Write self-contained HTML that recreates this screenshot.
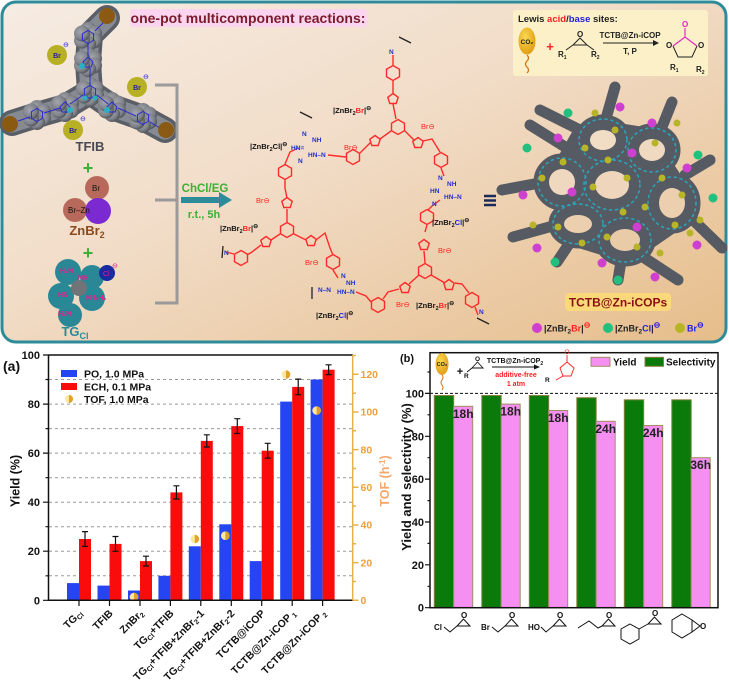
<!DOCTYPE html>
<html><head><meta charset="utf-8"><style>
html,body{margin:0;padding:0;background:#fff;}
svg{display:block;}
text{font-family:"Liberation Sans",Arial,sans-serif;}
</style></head><body>
<svg width="729" height="681" viewBox="0 0 729 681" xmlns="http://www.w3.org/2000/svg">
<defs>
<linearGradient id="bg" x1="0" y1="0" x2="1" y2="1">
<stop offset="0" stop-color="#f6ece3"/>
<stop offset="0.45" stop-color="#f1dcc7"/>
<stop offset="1" stop-color="#e6bd8a"/>
</linearGradient>
<radialGradient id="egg" cx="0.4" cy="0.35" r="0.7">
<stop offset="0" stop-color="#f8d850"/><stop offset="1" stop-color="#e09a10"/>
</radialGradient>
<radialGradient id="sph" cx="0.4" cy="0.4" r="0.6">
<stop offset="0" stop-color="#a4a8ae"/><stop offset="0.7" stop-color="#80848a"/><stop offset="1" stop-color="#55595f"/>
</radialGradient>
<polygon id="hx" points="0,-7.5 6.5,-3.75 6.5,3.75 0,7.5 -6.5,3.75 -6.5,-3.75" fill="none" stroke="#ff2a2a" stroke-width="1.4"/>
<polygon id="pt" points="0,-5.5 5.2,-1.7 3.2,4.5 -3.2,4.5 -5.2,-1.7" fill="none" stroke="#ff2a2a" stroke-width="1.4"/>
<polygon id="bhx" points="0,-6.5 5.6,-3.25 5.6,3.25 0,6.5 -5.6,3.25 -5.6,-3.25" fill="none" stroke="#2a2ad0" stroke-width="1"/>
<g id="blob">
<circle cx="0" cy="-7" r="8" fill="url(#sph)"/><circle cx="6" cy="-3.5" r="8" fill="url(#sph)"/><circle cx="6" cy="3.5" r="8" fill="url(#sph)"/>
<circle cx="0" cy="7" r="8" fill="url(#sph)"/><circle cx="-6" cy="3.5" r="8" fill="url(#sph)"/><circle cx="-6" cy="-3.5" r="8" fill="url(#sph)"/>
</g>
</defs>

<!-- ===== TOP PANEL ===== -->
<rect x="2" y="2" width="724" height="340" rx="14" fill="url(#bg)" stroke="#2e8c9a" stroke-width="3"/>

<!-- title -->
<rect x="130" y="9" width="237" height="18" rx="3" fill="#fbd5ef"/>
<text x="248" y="23" text-anchor="middle" font-size="14" font-weight="bold" fill="#7a1a2a">one-pot multicomponent reactions:</text>

<!-- TFIB -->
<g fill="none" stroke-linecap="round" stroke-linejoin="round">
<path d="M107,18 L90,35 L88,62 L90,92 M12,123 L37,115 L65,107 L90,92 M165,130 L143,118 L112,107 L90,92" stroke="#5a5e66" stroke-width="26"/>
<path d="M107,18 L90,35 L88,62 L90,92 M12,123 L37,115 L65,107 L90,92 M165,130 L143,118 L112,107 L90,92" stroke="#868a92" stroke-width="19"/>
</g>
<use href="#blob" x="88" y="37"/><use href="#blob" x="88" y="62"/><use href="#blob" x="90" y="92"/>
<use href="#blob" x="65" y="107"/><use href="#blob" x="37" y="115"/><use href="#blob" x="112" y="107"/><use href="#blob" x="143" y="118"/>
<use href="#bhx" x="88" y="37"/><use href="#bhx" x="37" y="115"/><use href="#bhx" x="143" y="118"/><use href="#bhx" x="90" y="92"/>
<g stroke="#2a2ad0" stroke-width="1" fill="none">
<path d="M88,44 L88,56 M90,85 L90,68 M44,113 L60,108 M97,95 L108,104 M83,95 L70,104 M118,108 L136,116 M95,31 L104,22 M30,117 L18,121 M150,122 L160,128"/>
<path d="M83,62 L88,57 L93,62 L91,67 L85,67 Z M60,107 L65,102 L70,107 L68,112 L62,112 Z M107,107 L112,102 L117,107 L115,112 L109,112 Z"/>
</g>
<g fill="#2ab0c0"><circle cx="82" cy="66" r="3"/><circle cx="70" cy="110" r="3"/><circle cx="107" cy="110" r="3"/><circle cx="95" cy="98" r="2.5"/><circle cx="85" cy="98" r="2.5"/></g>
<g fill="#8a5a12"><circle cx="107" cy="16" r="8"/><circle cx="10" cy="124" r="8"/><circle cx="166" cy="130" r="8"/></g>
<g fill="#b8b024"><circle cx="57" cy="55" r="10"/><circle cx="137" cy="87" r="10"/><circle cx="73" cy="130" r="10"/></g>
<g font-size="7" font-weight="bold" fill="#2020a0" text-anchor="middle"><text x="57" y="58">Br</text><text x="137" y="90">Br</text><text x="73" y="133">Br</text></g>
<g font-size="7" fill="#2020d0"><text x="63" y="47">⊖</text><text x="143" y="79">⊖</text><text x="80" y="121">⊖</text></g>
<text x="90" y="151" text-anchor="middle" font-size="13" font-weight="bold" fill="#4a4a52">TFIB</text>

<text x="88" y="174" text-anchor="middle" font-size="18" font-weight="bold" fill="#3cb034">+</text>
<!-- ZnBr2 -->
<circle cx="97" cy="188" r="12" fill="#b76a5c"/>
<circle cx="75" cy="210" r="12" fill="#b76a5c"/>
<circle cx="98" cy="211" r="13" fill="#7a2ad0"/>
<g font-size="8" fill="#111"><text x="92" y="191">Br</text><text x="68" y="213">Br–Zn</text></g>
<text x="87" y="235" text-anchor="middle" font-size="13" font-weight="bold" fill="#8a4a1a">ZnBr<tspan font-size="9" dy="3">2</tspan></text>

<text x="88" y="259" text-anchor="middle" font-size="18" font-weight="bold" fill="#3cb034">+</text>
<!-- TGcl -->
<g fill="#2a8896">
<circle cx="68" cy="272" r="13"/><circle cx="92" cy="277" r="12"/><circle cx="61" cy="296" r="13"/><circle cx="92" cy="298" r="13"/><circle cx="70" cy="315" r="12"/>
</g>
<circle cx="79" cy="288" r="8" fill="#707478"/>
<g font-size="7" font-weight="bold" fill="#e0208a"><text x="60" y="273">H₂N</text><text x="78" y="280">NH</text><text x="58" y="297">HN</text><text x="86" y="300">N·NH₂</text><text x="58" y="316">H₂N</text></g>
<circle cx="107" cy="273" r="8" fill="#1a2aa0"/>
<text x="103" y="276" font-size="7" fill="#e0208a">Cl</text>
<text x="112" y="268" font-size="7" fill="#e0208a">⊖</text>
<text x="75" y="336" text-anchor="middle" font-size="13" font-weight="bold" fill="#2a8a9a">TG<tspan font-size="9" dy="3">Cl</tspan></text>

<!-- bracket & arrow -->
<path d="M155,85 H177 V303 H155 M155,200 H177" stroke="#9a9a9a" stroke-width="3" fill="none"/>
<path d="M181,200 H221" stroke="#2e8c9a" stroke-width="6"/>
<polygon points="219,192 232,200 219,208" fill="#2e8c9a"/>
<text x="205" y="192" text-anchor="middle" font-size="11.5" font-weight="bold" fill="#3cb034">ChCl/EG</text>
<text x="204" y="218" text-anchor="middle" font-size="11" font-weight="bold" fill="#3cb034">r.t., 5h</text>

<!-- red structure -->
<g>
<use href="#hx" x="287" y="230"/><use href="#pt" x="287" y="203"/><use href="#hx" x="285" y="172"/>
<use href="#pt" x="266" y="242"/><use href="#hx" x="241" y="258"/>
<use href="#pt" x="311" y="241"/><use href="#hx" x="333" y="262"/>
<use href="#hx" x="353" y="157"/><use href="#pt" x="375" y="141"/>
<use href="#hx" x="393" y="73"/><use href="#pt" x="393" y="99"/><use href="#hx" x="398" y="127"/>
<use href="#pt" x="418" y="143"/><use href="#hx" x="441" y="160"/>
<use href="#hx" x="427" y="217"/><use href="#pt" x="424" y="245"/><use href="#hx" x="425" y="271"/>
<use href="#pt" x="405" y="288"/><use href="#pt" x="449" y="285"/><use href="#hx" x="472" y="300"/>
<use href="#hx" x="378" y="305"/>
</g>
<g stroke="#ff2a2a" stroke-width="1.4" fill="none">
<path d="M287,222 L287,209 M287,198 L285,188 L285,180 M285,164 L290,152 L298,148"/>
<path d="M280,234 L271,240 M261,245 L252,252 L247,255 M234,254 L226,252"/>
<path d="M294,234 L306,240 M316,240 L325,233 L330,248 L333,255 M333,270 L338,278"/>
<path d="M328,155 L346,157 M360,153 L366,147 L371,142"/>
<path d="M393,55 L393,65 M393,81 L393,93 M393,104 L396,119 M391,131 L380,139 M405,131 L414,140 M423,141 L432,139 L440,152 M441,168 L444,176"/>
<path d="M440,200 L432,206 L428,210 M427,225 L425,232 M424,251 L425,263 M419,275 L409,284 M431,275 L445,283 M455,283 L462,284 L469,293 M475,307 L478,315"/>
<path d="M399,289 L388,292 L383,299 M356,292 L366,296 L371,302"/>
</g>
<g stroke="#222" stroke-width="1.3"><path d="M300,112 L312,118 M399,37 L411,43 M223,246 L222,258 M477,318 L489,324 M312,287 L312,299"/></g>
<g font-size="6.5" fill="#2030d0" font-weight="bold">
<text x="302" y="136">N</text><text x="312" y="142">NH</text><text x="291" y="150">HN=</text><text x="308" y="157">HN–N</text><text x="298" y="163">N</text>
<text x="341" y="278">N</text><text x="346" y="285">NH</text><text x="318" y="292">N–N</text><text x="337" y="294">HN–N</text>
<text x="438" y="180">N</text><text x="447" y="186">NH</text><text x="430" y="193">HN</text><text x="444" y="199">HN–N</text><text x="432" y="206">N</text>
<text x="224" y="255">N</text><text x="389" y="54">N</text><text x="479" y="314">N</text>
</g>
<g font-size="7.5" font-weight="bold" fill="#111">
<text x="333" y="113">|ZnBr<tspan font-size="5.5" dy="2">2</tspan><tspan dy="-2" fill="#ff2020">Br</tspan>|<tspan dy="-3" font-size="6">⊖</tspan></text>
<text x="250" y="149">|ZnBr<tspan font-size="5.5" dy="2">2</tspan><tspan dy="-2">Cl</tspan>|<tspan dy="-3" font-size="6">⊖</tspan></text>
<text x="220" y="231">|ZnBr<tspan font-size="5.5" dy="2">2</tspan><tspan dy="-2" fill="#ff2020">Br</tspan>|<tspan dy="-3" font-size="6">⊖</tspan></text>
<text x="316" y="318">|ZnBr<tspan font-size="5.5" dy="2">2</tspan><tspan dy="-2" fill="#2020e0">Cl</tspan>|<tspan dy="-3" font-size="6">⊖</tspan></text>
<text x="432" y="225">|ZnBr<tspan font-size="5.5" dy="2">2</tspan><tspan dy="-2" fill="#2020e0">Cl</tspan>|<tspan dy="-3" font-size="6">⊖</tspan></text>
<text x="416" y="308">|ZnBr<tspan font-size="5.5" dy="2">2</tspan><tspan dy="-2" fill="#ff2020">Br</tspan>|<tspan dy="-3" font-size="6">⊖</tspan></text>
</g>
<g font-size="7.5" fill="#ff2020">
<text x="344" y="150">Br⊖</text><text x="256" y="203">Br⊖</text><text x="305" y="265">Br⊖</text><text x="421" y="129">Br⊖</text><text x="438" y="253">Br⊖</text><text x="396" y="307">Br⊖</text>
</g>
<!-- ≡ -->
<g stroke="#1a2a5a" stroke-width="2.5"><path d="M484,196 H496 M484,200.5 H496 M484,205 H496"/></g>

<!-- Lewis box -->
<rect x="513" y="10" width="195" height="66" rx="3" fill="#fbf0c8"/>
<text x="518" y="22" font-size="9.5" font-weight="bold" fill="#222">Lewis <tspan fill="#ff2020">acid</tspan>/<tspan fill="#2020e0">base</tspan> sites:</text>
<ellipse cx="527" cy="41" rx="8.5" ry="13.5" fill="url(#egg)"/>
<text x="527" y="44" text-anchor="middle" font-size="6.5" font-weight="bold" fill="#222">CO₂</text>
<path d="M527,55 q3,3 0,6 q-3,3 0,6 q3,3 0,6" stroke="#d07010" stroke-width="1.2" fill="none"/>
<text x="550" y="51" text-anchor="middle" font-size="13" font-weight="bold" fill="#ff2020">+</text>
<g stroke="#222" stroke-width="1" fill="none"><path d="M573,45 L587,45 L580,38 Z M573,45 L566,50 M587,45 L594,50 M603,43 L655,43"/></g>
<polygon points="653,40 659,43 653,46" fill="#222"/>
<g font-size="8" font-weight="bold" fill="#222"><text x="577" y="37">O</text><text x="558" y="57">R<tspan font-size="5" dy="2">1</tspan></text><text x="591" y="57">R<tspan font-size="5" dy="2">2</tspan></text>
<text x="630" y="38" text-anchor="middle">TCTB@Zn-iCOP</text><text x="630" y="54" text-anchor="middle">T, P</text>
<text x="670" y="70">R<tspan font-size="5" dy="2">1</tspan></text><text x="696" y="72">R<tspan font-size="5" dy="2">2</tspan></text></g>
<g stroke="#222" stroke-width="1" fill="none"><path d="M673,46 L678,57 L692,57 L697,46"/></g>
<g stroke="#e020c0" stroke-width="1.1" fill="none"><path d="M673,46 L685,37 L697,46 M685,37 L685,28"/></g>
<g font-size="8" font-weight="bold" fill="#e020c0"><text x="682" y="27">O</text></g>
<g font-size="8" font-weight="bold" fill="#222"><text x="666" y="48">O</text><text x="698" y="48">O</text></g>

<!-- COP network -->
<polygon points="600,120 650,128 692,192 682,228 630,264 572,246 542,185 572,132" fill="#565a62"/>
<g fill="none" stroke-linecap="round">
<path d="M615,87 L605,122 M672,102 L660,132 M502,190 L545,182 M513,237 L560,224 M722,248 L688,215 M678,280 L640,255 M557,262 L575,235 M618,280 L622,255 M530,125 L570,150 M710,160 L685,175 M540,110 L580,130" stroke="#565a62" stroke-width="11"/>
<g stroke="#565a62" stroke-width="19">
<ellipse cx="612" cy="185" rx="23" ry="20"/><ellipse cx="603" cy="140" rx="19" ry="16"/><ellipse cx="652" cy="150" rx="19" ry="17"/>
<ellipse cx="562" cy="182" rx="19" ry="19"/><ellipse cx="578" cy="224" rx="20" ry="15"/><ellipse cx="625" cy="240" rx="21" ry="17"/><ellipse cx="672" cy="203" rx="19" ry="21"/>
</g>
<g stroke="#2aa4b8" stroke-width="1.6" stroke-dasharray="2 4">
<ellipse cx="612" cy="185" rx="28" ry="25"/><ellipse cx="603" cy="140" rx="24" ry="21"/><ellipse cx="652" cy="150" rx="24" ry="22"/>
<ellipse cx="562" cy="182" rx="24" ry="24"/><ellipse cx="578" cy="224" rx="25" ry="20"/><ellipse cx="625" cy="240" rx="26" ry="22"/><ellipse cx="672" cy="203" rx="24" ry="26"/>
</g>
</g>
<g>
<ellipse cx="612" cy="185" rx="17" ry="14" fill="#eed5bb"/><ellipse cx="603" cy="140" rx="13" ry="10" fill="#f1dcc6"/><ellipse cx="652" cy="150" rx="13" ry="11" fill="#f0d9c1"/>
<ellipse cx="562" cy="182" rx="13" ry="13" fill="#efd8c0"/><ellipse cx="578" cy="224" rx="14" ry="9" fill="#eccfae"/><ellipse cx="625" cy="240" rx="15" ry="11" fill="#eacba8"/><ellipse cx="672" cy="203" rx="13" ry="15" fill="#ebcfae"/>
</g>
<g fill="#d040d0">
<circle cx="620" cy="107" r="4.5"/><circle cx="652" cy="123" r="4.5"/><circle cx="558" cy="138" r="4.5"/><circle cx="632" cy="153" r="4.5"/><circle cx="687" cy="168" r="4.5"/><circle cx="523" cy="195" r="4.5"/><circle cx="572" cy="192" r="4.5"/><circle cx="637" cy="227" r="4.5"/><circle cx="537" cy="248" r="4.5"/><circle cx="697" cy="245" r="4.5"/><circle cx="602" cy="263" r="4.5"/><circle cx="655" cy="277" r="4.5"/>
</g>
<g fill="#22c07e">
<circle cx="568" cy="113" r="4.5"/><circle cx="527" cy="148" r="4.5"/><circle cx="698" cy="155" r="4.5"/><circle cx="713" cy="198" r="4.5"/><circle cx="555" cy="262" r="4.5"/><circle cx="618" cy="280" r="4.5"/>
</g>
<g fill="#b8b428">
<circle cx="595" cy="113" r="3.5"/><circle cx="615" cy="130" r="3.5"/><circle cx="655" cy="143" r="3.5"/><circle cx="677" cy="123" r="3.5"/><circle cx="585" cy="148" r="3.5"/><circle cx="563" cy="162" r="3.5"/><circle cx="542" cy="178" r="3.5"/><circle cx="608" cy="160" r="3.5"/><circle cx="627" cy="178" r="3.5"/><circle cx="662" cy="178" r="3.5"/><circle cx="682" cy="195" r="3.5"/><circle cx="533" cy="225" r="3.5"/><circle cx="558" cy="227" r="3.5"/><circle cx="593" cy="187" r="3.5"/><circle cx="645" cy="207" r="3.5"/><circle cx="675" cy="225" r="3.5"/><circle cx="700" cy="220" r="3.5"/><circle cx="582" cy="243" r="3.5"/><circle cx="607" cy="237" r="3.5"/><circle cx="637" cy="247" r="3.5"/><circle cx="660" cy="253" r="3.5"/><circle cx="690" cy="233" r="3.5"/><circle cx="623" cy="212" r="3.5"/>
</g>
<rect x="565" y="293" width="106" height="18" rx="4" fill="#fbd87a"/>
<text x="618" y="306.5" text-anchor="middle" font-size="12" font-weight="bold" fill="#8a1010">TCTB@Zn-iCOPs</text>
<circle cx="537" cy="328" r="5" fill="#d040d0"/>
<text x="544" y="331.5" font-size="9" font-weight="bold" fill="#222">|ZnBr<tspan font-size="6.5" dy="2">2</tspan><tspan dy="-2" fill="#ff2020">Br</tspan>|<tspan dy="-4" font-size="8" fill="#ff2020">⊖</tspan></text>
<circle cx="608" cy="328" r="5" fill="#22c07e"/>
<text x="615" y="331.5" font-size="9" font-weight="bold" fill="#222">|ZnBr<tspan font-size="6.5" dy="2">2</tspan><tspan dy="-2" fill="#2020e0">Cl</tspan>|<tspan dy="-4" font-size="8" fill="#2020e0">⊖</tspan></text>
<circle cx="680" cy="328" r="5" fill="#b8b428"/>
<text x="687" y="331.5" font-size="9" font-weight="bold" fill="#2020e0">Br<tspan dy="-4" font-size="8">⊖</tspan></text>

<!-- ===== CHART (a) ===== -->
<text x="3" y="371" font-size="14" font-weight="bold" fill="#111">(a)</text>
<g stroke="#9a9a9a" stroke-width="1" stroke-dasharray="3 3">
<path d="M49,575.8 H352 M49,551.2 H352 M49,526.7 H352 M49,502.2 H352 M49,477.7 H352 M49,453.1 H352 M49,428.6 H352 M49,404.1 H352 M49,379.5 H352"/>
</g>
<g fill="#2545f2">
<rect x="67" y="583.1" width="12" height="17.2"/>
<rect x="97.5" y="585.6" width="12" height="14.7"/>
<rect x="128" y="590.5" width="12" height="9.8"/>
<rect x="158.4" y="575.8" width="12" height="24.5"/>
<rect x="188.8" y="546.3" width="12" height="54"/>
<rect x="219.3" y="524.3" width="12" height="76"/>
<rect x="249.7" y="561.1" width="12" height="39.2"/>
<rect x="280.2" y="401.6" width="12" height="198.7"/>
<rect x="310.6" y="379.5" width="12" height="220.8"/>
</g>
<g fill="#fb0c0c">
<rect x="79" y="539" width="12" height="61.3"/>
<rect x="109.5" y="543.9" width="12" height="56.4"/>
<rect x="140" y="561.1" width="12" height="39.2"/>
<rect x="170.4" y="492.4" width="12" height="107.9"/>
<rect x="200.8" y="440.9" width="12" height="159.4"/>
<rect x="231.3" y="426.1" width="12" height="174.2"/>
<rect x="261.7" y="450.7" width="12" height="149.6"/>
<rect x="292.2" y="386.9" width="12" height="213.4"/>
<rect x="322.6" y="369.7" width="12" height="230.6"/>
</g>
<g stroke="#111" stroke-width="1.2">
<path d="M85,531.6 V546.4 M82,531.6 H88 M82,546.4 H88"/>
<path d="M115.5,536.5 V551.3 M112.5,536.5 H118.5 M112.5,551.3 H118.5"/>
<path d="M146,556.2 V566 M143,556.2 H149 M143,566 H149"/>
<path d="M176.4,485.8 V499 M173.4,485.8 H179.4 M173.4,499 H179.4"/>
<path d="M206.8,434.8 V447 M203.8,434.8 H209.8 M203.8,447 H209.8"/>
<path d="M237.3,418.7 V433.5 M234.3,418.7 H240.3 M234.3,433.5 H240.3"/>
<path d="M267.7,443.3 V458.1 M264.7,443.3 H270.7 M264.7,458.1 H270.7"/>
<path d="M298.2,379.1 V394.7 M295.2,379.1 H301.2 M295.2,394.7 H301.2"/>
<path d="M328.6,364.8 V374.6 M325.6,364.8 H331.6 M325.6,374.6 H331.6"/>
</g>
<g>
<circle cx="134" cy="597" r="4.3" fill="#fbe8a0"/><path d="M134,592.7 A4.3,4.3 0 0 1 134,601.3 Z" fill="#e3a02a"/>
<circle cx="194.8" cy="539" r="4.3" fill="#fbe8a0"/><path d="M194.8,534.7 A4.3,4.3 0 0 1 194.8,543.3 Z" fill="#e3a02a"/>
<circle cx="225.3" cy="535.7" r="4.3" fill="#fbe8a0"/><path d="M225.3,531.4 A4.3,4.3 0 0 1 225.3,540 Z" fill="#e3a02a"/>
<circle cx="286" cy="374.5" r="4.3" fill="#fbe8a0"/><path d="M286,370.2 A4.3,4.3 0 0 1 286,378.8 Z" fill="#e3a02a"/>
<circle cx="316.6" cy="410.5" r="4.3" fill="#fbe8a0"/><path d="M316.6,406.2 A4.3,4.3 0 0 1 316.6,414.8 Z" fill="#e3a02a"/>
</g>
<g stroke="#111" stroke-width="1.5" fill="none">
<path d="M48.5,355 V600.3 H352.7 M48.5,355 H352.7"/>
</g>
<g stroke="#111" stroke-width="1.2">
<path d="M43,600.3 H48.5 M43,551.2 H48.5 M43,502.2 H48.5 M43,453.1 H48.5 M43,404.1 H48.5 M43,355 H48.5"/>
<path d="M45.5,575.8 H48.5 M45.5,526.7 H48.5 M45.5,477.7 H48.5 M45.5,428.6 H48.5 M45.5,379.5 H48.5"/>
<path d="M79,600.3 V606 M109.5,600.3 V606 M140,600.3 V606 M170.4,600.3 V606 M200.8,600.3 V606 M231.3,600.3 V606 M261.7,600.3 V606 M292.2,600.3 V606 M322.6,600.3 V606"/>
</g>
<g stroke="#e6b04a" stroke-width="1.5">
<path d="M352.7,355 V600.3"/>
<path d="M352.7,600.3 H358.5 M352.7,562.6 H358.5 M352.7,525 H358.5 M352.7,487.3 H358.5 M352.7,449.6 H358.5 M352.7,412 H358.5 M352.7,374.3 H358.5"/>
<path d="M352.7,581.5 H356 M352.7,543.8 H356 M352.7,506.1 H356 M352.7,468.5 H356 M352.7,430.8 H356 M352.7,393.1 H356 M352.7,355.5 H356"/>
</g>
<g font-size="11" font-weight="bold" fill="#111" text-anchor="end">
<text x="40" y="604.3">0</text><text x="40" y="555.2">20</text><text x="40" y="506.2">40</text><text x="40" y="457.1">60</text><text x="40" y="408.1">80</text><text x="40" y="359">100</text>
</g>
<g font-size="10.5" font-weight="bold" fill="#eca03a">
<text x="360.5" y="604">0</text><text x="360.5" y="566.3">20</text><text x="360.5" y="528.7">40</text><text x="360.5" y="491">60</text><text x="360.5" y="453.3">80</text><text x="360.5" y="415.7">100</text><text x="360.5" y="378">120</text>
</g>
<text transform="translate(19.5,481) rotate(-90)" text-anchor="middle" font-size="12.5" font-weight="bold" fill="#111">Yield (%)</text>
<text transform="translate(389,481) rotate(-90)" text-anchor="middle" font-size="12.5" font-weight="bold" fill="#f5a66a">TOF (h<tspan font-size="8" dy="-4">-1</tspan><tspan dy="4">)</tspan></text>
<rect x="61" y="370" width="16" height="7" fill="#2545f2"/>
<rect x="61" y="383" width="16" height="7" fill="#fb0c0c"/>
<circle cx="69" cy="399" r="4" fill="#fbe8a0"/><path d="M69,395 A4,4 0 0 1 69,403 Z" fill="#e3a02a"/>
<g font-size="10.5" font-weight="bold" fill="#111">
<text x="84" y="377.5">PO, 1.0 MPa</text><text x="84" y="390.5">ECH, 0.1 MPa</text><text x="84" y="403">TOF, 1.0 MPa</text>
</g>
<g font-size="10.5" font-weight="bold" fill="#111" text-anchor="end">
<text transform="translate(83,614) rotate(-45)">TG<tspan font-size="7" dy="2">Cl</tspan></text>
<text transform="translate(113.5,614) rotate(-45)">TFIB</text>
<text transform="translate(144,614) rotate(-45)">ZnBr<tspan font-size="7" dy="2">2</tspan></text>
<text transform="translate(174.4,614) rotate(-45)">TG<tspan font-size="7" dy="2">Cl</tspan><tspan dy="-2">+TFIB</tspan></text>
<text transform="translate(204.8,614) rotate(-45)">TG<tspan font-size="7" dy="2">Cl</tspan><tspan dy="-2">+TFIB+ZnBr</tspan><tspan font-size="7" dy="2">2</tspan><tspan dy="-2">-1</tspan></text>
<text transform="translate(235.3,614) rotate(-45)">TG<tspan font-size="7" dy="2">Cl</tspan><tspan dy="-2">+TFIB+ZnBr</tspan><tspan font-size="7" dy="2">2</tspan><tspan dy="-2">-2</tspan></text>
<text transform="translate(265.7,614) rotate(-45)">TCTB@iCOP</text>
<text transform="translate(296.2,614) rotate(-45)">TCTB@Zn-iCOP<tspan font-size="7" dy="2"> 1</tspan></text>
<text transform="translate(326.6,614) rotate(-45)">TCTB@Zn-iCOP<tspan font-size="7" dy="2"> 2</tspan></text>
</g>

<!-- ===== CHART (b) ===== -->
<text x="400" y="362" font-size="11" font-weight="bold" fill="#111">(b)</text>
<g fill="#0a7a0a" stroke="#8a8040" stroke-width="1">
<rect x="434.3" y="395.5" width="19.4" height="212.2"/>
<rect x="481.8" y="395.5" width="19.4" height="212.2"/>
<rect x="529.3" y="395.5" width="19.4" height="212.2"/>
<rect x="576.8" y="397.7" width="19.4" height="210"/>
<rect x="624.3" y="399.8" width="19.4" height="207.9"/>
<rect x="671.8" y="399.8" width="19.4" height="207.9"/>
</g>
<g fill="#f58ff2" stroke="#a09060" stroke-width="1">
<rect x="453.7" y="406.3" width="19" height="201.4"/>
<rect x="501.2" y="404.1" width="19" height="203.6"/>
<rect x="548.7" y="410.5" width="19" height="197.2"/>
<rect x="596.2" y="421.3" width="19" height="186.4"/>
<rect x="643.7" y="425.5" width="19" height="182.2"/>
<rect x="691.2" y="457.7" width="19" height="150"/>
</g>
<g font-size="12" font-weight="bold" fill="#222" text-anchor="middle">
<text x="463.2" y="418">18h</text><text x="510.7" y="415.6">18h</text><text x="558.2" y="422">18h</text><text x="605.7" y="432.8">24h</text><text x="653.2" y="437">24h</text><text x="700.7" y="469.2">36h</text>
</g>
<path d="M430,393.4 H718" stroke="#111" stroke-width="1" stroke-dasharray="3 2"/>
<rect x="430" y="352.7" width="288" height="255" fill="none" stroke="#111" stroke-width="1.5"/>
<g stroke="#111" stroke-width="1.2">
<path d="M425,607.7 H430 M425,564.8 H430 M425,522 H430 M425,479.1 H430 M425,436.3 H430 M425,393.4 H430"/>
<path d="M427.5,586.3 H430 M427.5,543.4 H430 M427.5,500.6 H430 M427.5,457.7 H430 M427.5,414.8 H430 M427.5,372 H430"/>
</g>
<g font-size="11" font-weight="bold" fill="#111" text-anchor="end">
<text x="424" y="611.7">0</text><text x="424" y="568.8">20</text><text x="424" y="526">40</text><text x="424" y="483.1">60</text><text x="424" y="440.3">80</text><text x="424" y="397.4">100</text>
</g>
<text transform="translate(411,477) rotate(-90)" text-anchor="middle" font-size="13" font-weight="bold" fill="#111">Yield and selectivity (%)</text>
<rect x="591" y="357.3" width="19" height="9" fill="#f58ff2" stroke="#a09060" stroke-width="1"/>
<text x="613" y="365.5" font-size="10" font-weight="bold" fill="#111">Yield</text>
<rect x="645" y="357.3" width="18.5" height="9" fill="#0a7a0a" stroke="#8a8040" stroke-width="1"/>
<text x="666" y="365.5" font-size="10" font-weight="bold" fill="#111">Selectivity</text>
<ellipse cx="442" cy="364" rx="6.5" ry="11" fill="url(#egg)"/>
<text x="442" y="366" text-anchor="middle" font-size="5.5" font-weight="bold" fill="#222">CO₂</text>
<path d="M442,375 q2,2.5 0,5 q-2,2.5 0,5 q2,2.5 0,5" stroke="#d07010" stroke-width="1" fill="none"/>
<text x="460" y="375" text-anchor="middle" font-size="11" font-weight="bold" fill="#111">+</text>
<g stroke="#111" stroke-width="0.9" fill="none"><path d="M472,368 L483,368 L477.5,362 Z M472,368 L467,372 M492,367 L536,367"/></g>
<polygon points="534,364.5 540,367 534,369.5" fill="#111"/>
<g font-size="6.5" font-weight="bold" fill="#111"><text x="475" y="361">O</text><text x="464" y="378">R</text><text x="545" y="382">R</text></g>
<text x="515" y="363" text-anchor="middle" font-size="7" font-weight="bold" fill="#111">TCTB@Zn-iCOP<tspan font-size="5" dy="2">2</tspan></text>
<text x="516" y="377" text-anchor="middle" font-size="7" font-weight="bold" fill="#ff2020">additive-free</text>
<text x="516" y="386" text-anchor="middle" font-size="7" font-weight="bold" fill="#ff2020">1 atm</text>
<g stroke="#ff2020" stroke-width="0.9" fill="none"><path d="M560,368 L567,362 L574,368 L571,376 L563,376 Z M567,362 L567,355 M563,376 L556,380"/></g>
<text x="564.5" y="354" font-size="6.5" fill="#ff2020">O</text>
<g stroke="#111" stroke-width="1" fill="none">
<path d="M444,627 L450,632 L457,626 M457,626 L470,626 L463.5,619 Z"/>
<path d="M492,627 L498,632 L505,626 M505,626 L518,626 L511.5,619 Z"/>
<path d="M541,627 L546,632 L553,626 M553,626 L566,626 L559.5,619 Z"/>
<path d="M578,628 L589,621 L598,628 L602,626 M602,626 L615,626 L608.5,619 Z"/>
<path d="M630,624 L639,629 L639,639 L630,644 L621,639 L621,629 Z M639,629 L648,624 M648,624 L661,624 L654.5,617 Z"/>
<path d="M682,614 L692,620 L692,632 L682,638 L672,632 L672,620 Z M692,620 L700,626 L692,632"/>
</g>
<g font-size="8" font-weight="bold" fill="#111">
<text x="434" y="630">Cl</text><text x="461" y="618">O</text>
<text x="481" y="630">Br</text><text x="509" y="618">O</text>
<text x="528" y="630">HO</text><text x="557" y="618">O</text>
<text x="606" y="618">O</text>
<text x="652" y="616">O</text>
<text x="700" y="629">O</text>
</g>
</svg>
</body></html>
